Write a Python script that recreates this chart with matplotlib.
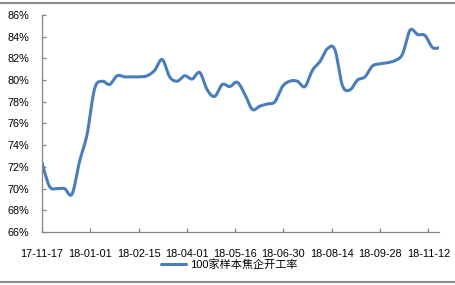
import numpy as np
import matplotlib
matplotlib.use("Agg")
import matplotlib.pyplot as plt
import matplotlib.dates as mdates
from matplotlib.lines import Line2D
from matplotlib.ticker import FuncFormatter, MultipleLocator

plt.rcParams['font.family'] = ['Liberation Sans', 'Noto Sans CJK SC', 'DejaVu Sans']

# weekly sample, starting 2017-11-17
start_date = np.datetime64('2017-11-17')
rate = [72.4, 70.2, 70.0, 70.0, 69.5, 72.5, 75.0, 79.2, 79.9, 79.6,
        80.4, 80.3, 80.3, 80.3, 80.4, 80.9, 81.9, 80.3, 79.9, 80.4,
        80.1, 80.7, 79.1, 78.5, 79.6, 79.4, 79.8, 78.7, 77.3, 77.6,
        77.8, 78.0, 79.4, 79.9, 79.9, 79.4, 80.9, 81.7, 82.9, 82.8,
        79.5, 79.1, 80.0, 80.3, 81.3, 81.5, 81.6, 81.8, 82.4, 84.6,
        84.2, 84.1, 83.0, 83.0]
series_name = '100家样本焦企开工率'
tick_dates = ['2017-11-17', '2018-01-01', '2018-02-15', '2018-04-01', '2018-05-16',
              '2018-06-30', '2018-08-14', '2018-09-28', '2018-11-12']

dates = start_date + np.arange(len(rate)) * np.timedelta64(7, 'D')
x = mdates.date2num(dates.astype('datetime64[D]').astype(object))
y = np.array(rate)


def smooth(px, py, n=20):
    # catmull-rom style smoothing, similar to excel's smoothed line
    P = np.column_stack([px, py])
    P = np.vstack([P[0], P, P[-1]])
    out = []
    for i in range(1, len(P) - 2):
        p0, p1, p2, p3 = P[i - 1], P[i], P[i + 1], P[i + 2]
        c1 = p1 + (p2 - p0) / 6
        c2 = p2 - (p3 - p1) / 6
        t = np.linspace(0, 1, n)[:, None]
        b = (1 - t) ** 3 * p1 + 3 * (1 - t) ** 2 * t * c1 + 3 * (1 - t) * t ** 2 * c2 + t ** 3 * p2
        out.append(b if i == 1 else b[1:])
    out = np.vstack(out)
    return out[:, 0], out[:, 1]


fig = plt.figure(figsize=(4.56, 2.85), dpi=100)
ax = fig.add_axes([42 / 456, 53 / 285, 397 / 456, 217 / 285])

sx, sy = smooth(x, y)
ax.plot(sx, sy, color='#4a7ebb', lw=2.2, solid_capstyle='round', label=series_name)

ax.set_ylim(66, 86)
ax.yaxis.set_major_locator(MultipleLocator(2))
ax.yaxis.set_major_formatter(FuncFormatter(lambda v, p: '%d%%' % v))
tk = mdates.date2num([np.datetime64(d).astype(object) for d in tick_dates])
ax.set_xlim(tk[0], tk[0] + 370)
ax.set_xticks(tk)
ax.set_xticklabels([d[2:] for d in tick_dates])

for s in ['top', 'right']:
    ax.spines[s].set_visible(False)
for s in ['left', 'bottom']:
    ax.spines[s].set_color('#868686')
    ax.spines[s].set_linewidth(0.9)
ax.tick_params(axis='both', direction='in', length=3, width=0.9, color='#868686',
               labelsize=7.8, labelcolor='black')
ax.tick_params(axis='y', pad=9)
ax.tick_params(axis='x', pad=12)

ax.legend(loc='center', bbox_to_anchor=(229 / 456, 20 / 285), bbox_transform=fig.transFigure,
          frameon=False, fontsize=8, handlelength=2.3, handletextpad=0.35,
          prop={'family': ['Liberation Sans', 'Noto Sans CJK SC'], 'size': 8})

# chart frame lines
fig.add_artist(Line2D([0, 1], [1 - 3 / 285, 1 - 3 / 285], color='#8c8c8c', lw=1.5))
fig.add_artist(Line2D([0, 1], [3 / 285, 3 / 285], color='#8c8c8c', lw=1.5))

fig.savefig('out.png', dpi=100)
